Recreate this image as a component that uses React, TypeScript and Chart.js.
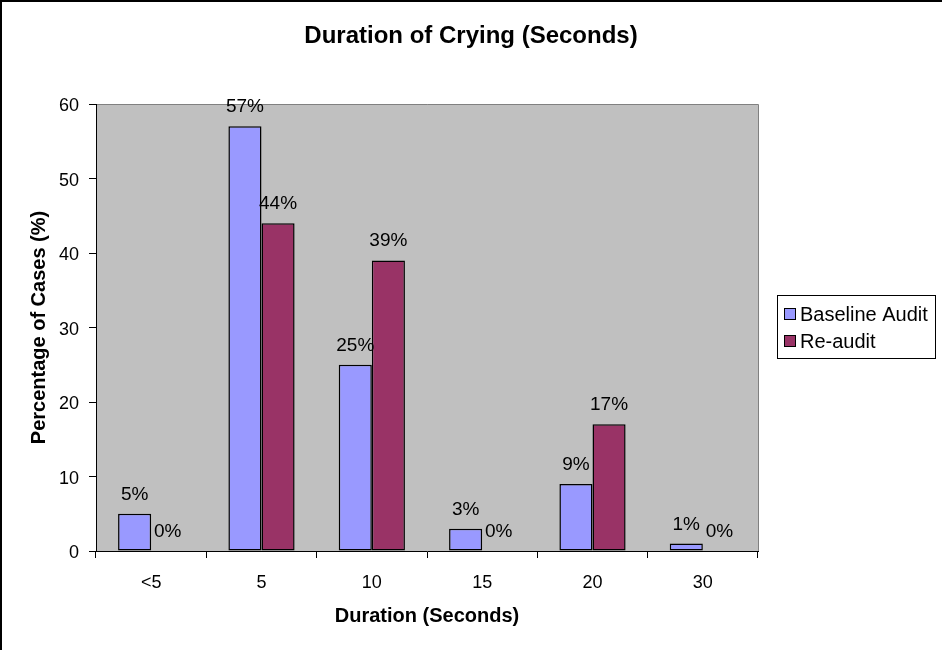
import React, { useEffect, useRef } from "react";
import { Chart, registerables } from "chart.js";

Chart.register(...registerables);

const categories = ["<5", "5", "10", "15", "20", "30"];
const baselineAudit = [5, 57, 25, 3, 9, 1];
const reAudit = [0, 44, 39, 0, 17, 0];
const yTickValues = [0, 10, 20, 30, 40, 50, 60];
const seriesNames = ["Baseline Audit", "Re-audit"];
const seriesColors = ["#9999FF", "#993366"];
const chartTitle = "Duration of Crying (Seconds)";
const xAxisTitle = "Duration (Seconds)";
const yAxisTitle = "Percentage of Cases (%)";

const FONT = '"Liberation Sans", Arial, sans-serif';

const decorPlugin = {
  id: "decor",
  beforeDraw(chart: any) {
    const { ctx, chartArea: a, width, height } = chart;
    ctx.save();
    ctx.fillStyle = "#ffffff";
    ctx.fillRect(0, 0, width, height);
    ctx.fillStyle = "#C0C0C0";
    ctx.fillRect(a.left, a.top, a.right - a.left, a.bottom - a.top);
    ctx.strokeStyle = "#808080";
    ctx.lineWidth = 1;
    ctx.beginPath();
    ctx.moveTo(a.left, a.top + 0.5);
    ctx.lineTo(a.right + 0.5, a.top + 0.5);
    ctx.lineTo(a.right + 0.5, a.bottom);
    ctx.stroke();
    ctx.restore();
  },
  afterDraw(chart: any) {
    const { ctx, chartArea: a } = chart;
    const xs = chart.scales.x;
    const ys = chart.scales.y;
    ctx.save();
    ctx.fillStyle = "#000";

    // Title
    ctx.font = `bold 24px ${FONT}`;
    ctx.textAlign = "center";
    ctx.textBaseline = "alphabetic";
    ctx.fillText(chartTitle, 471, 43);

    // Y tick labels
    ctx.font = `18px ${FONT}`;
    ctx.textAlign = "right";
    yTickValues.forEach((v) => {
      const py = ys.getPixelForValue(v);
      ctx.fillText(String(v), 79, py + 7);
    });

    // X tick labels
    ctx.textAlign = "center";
    categories.forEach((c, i) => {
      const px = xs.getPixelForValue(i);
      ctx.fillText(c, px, 588);
    });

    // Data labels
    ctx.font = `19px ${FONT}`;
    chart.data.datasets.forEach((ds: any, di: number) => {
      const meta = chart.getDatasetMeta(di);
      meta.data.forEach((el: any, i: number) => {
        ctx.fillText(`${ds.data[i]}%`, el.x, el.y - 14);
      });
    });

    // Axis titles
    ctx.font = `bold 20px ${FONT}`;
    ctx.fillText(xAxisTitle, (a.left + a.right) / 2, 622);
    ctx.save();
    ctx.translate(45, (a.top + a.bottom) / 2);
    ctx.rotate(-Math.PI / 2);
    ctx.fillText(yAxisTitle, 0, 0);
    ctx.restore();

    // Legend
    const lx = 777, ly = 295, lw = 158, lh = 63;
    ctx.strokeStyle = "#000";
    ctx.lineWidth = 1;
    ctx.strokeRect(lx + 0.5, ly + 0.5, lw, lh);
    ctx.font = `20px ${FONT}`;
    ctx.textAlign = "left";
    const rows = [314, 341];
    seriesNames.forEach((name, i) => {
      const cy = rows[i];
      ctx.fillStyle = seriesColors[i];
      ctx.fillRect(784, cy - 5, 11, 11);
      ctx.strokeStyle = "#000";
      ctx.strokeRect(784.5, cy - 5.5, 11, 11);
      ctx.fillStyle = "#000";
      ctx.fillText(name, 800, cy + 7);
    });

    // Outer border
    ctx.lineWidth = 2;
    ctx.strokeStyle = "#000";
    ctx.strokeRect(1, 1, 960, 700);
    ctx.restore();
  },
};

export default function App() {
  const ref = useRef<HTMLCanvasElement | null>(null);
  useEffect(() => {
    if (!ref.current) return;
    const chart = new Chart(ref.current, {
      type: "bar",
      data: {
        labels: categories,
        datasets: [
          {
            label: seriesNames[0],
            data: baselineAudit,
            backgroundColor: seriesColors[0],
            borderColor: "#000",
            borderWidth: 1.5,
            borderSkipped: false,
            categoryPercentage: 0.6,
            barPercentage: 1,
          },
          {
            label: seriesNames[1],
            data: reAudit,
            backgroundColor: seriesColors[1],
            borderColor: "#000",
            borderWidth: 1.5,
            borderSkipped: false,
            categoryPercentage: 0.6,
            barPercentage: 1,
          },
        ],
      },
      options: {
        responsive: false,
        animation: false,
        devicePixelRatio: 1,
        layout: { padding: { left: 0, top: 104, right: 184, bottom: 0 } },
        plugins: {
          legend: { display: false },
          title: { display: false },
          tooltip: { enabled: false },
        },
        scales: {
          x: {
            offset: true,
            ticks: { display: false },
            grid: {
              offset: true,
              drawOnChartArea: false,
              drawTicks: true,
              tickLength: 7,
              color: "#000",
            },
            border: { display: true, color: "#000", width: 1 },
            afterFit: (s: any) => {
              s.height = 99;
            },
          },
          y: {
            min: 0,
            max: 60,
            ticks: { display: false, stepSize: 10 },
            grid: {
              drawOnChartArea: false,
              drawTicks: true,
              tickLength: 7,
              color: "#000",
            },
            border: { display: true, color: "#000", width: 1 },
            afterFit: (s: any) => {
              s.width = 96;
            },
          },
        },
      },
      plugins: [decorPlugin],
    });
    return () => chart.destroy();
  }, []);
  return (
    <div style={{ position: "absolute", left: 0, top: 0, width: 942, height: 650 }}>
      <canvas ref={ref} width={942} height={650} style={{ width: 942, height: 650, display: "block" }} />
    </div>
  );
}
